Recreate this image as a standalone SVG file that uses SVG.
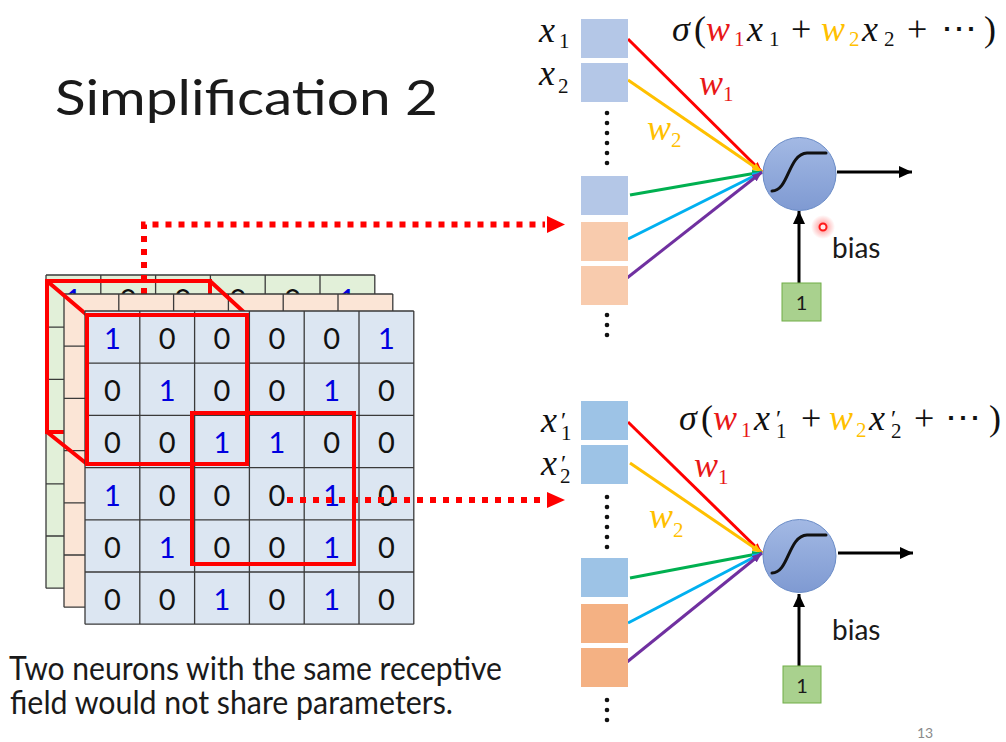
<svg xmlns="http://www.w3.org/2000/svg" width="1006" height="742" viewBox="0 0 1006 742">
<style>
.ui{font-family:Lato,"Liberation Sans",sans-serif;fill:#1a1a1a}
.d{font-family:Lato,"Liberation Sans",sans-serif;font-size:29px;text-anchor:middle;fill:#111}
.d1{fill:#0000E0}
.grid{stroke:#3a3a3a;stroke-width:1.3;fill:none}
.red{stroke:#FF0000;stroke-width:4;fill:none}
.dot{stroke:#FF0000;stroke-width:6;fill:none;stroke-dasharray:6 7}
.mt{font-family:"Liberation Serif","DejaVu Serif",serif;font-size:36px;fill:#111}
.i{font-style:italic}
.s{font-size:21px;font-style:normal}
.pr{font-size:24px;font-style:normal}
.r{fill:#E81818}
.y{fill:#FFC000}
.bx{stroke:none}
.vd{fill:#111}
.neu{fill:url(#ng);stroke:#6A8CC7;stroke-width:1}
.sig{fill:none;stroke:#111;stroke-width:3;stroke-linecap:round}
.one{fill:#A9D18E;stroke:#70AD47;stroke-width:1}
.ln{stroke-width:3;fill:none}
</style>
<defs>
<linearGradient id="ng" x1="0" y1="0" x2="0" y2="1">
<stop offset="0" stop-color="#A3B9E4"/>
<stop offset="1" stop-color="#7F9AD2"/>
</linearGradient>
<radialGradient id="glow">
<stop offset="0" stop-color="#FF3030" stop-opacity="0.55"/>
<stop offset="1" stop-color="#FF3030" stop-opacity="0"/>
</radialGradient>
<marker id="aR" viewBox="0 0 10 8" refX="10" refY="4" markerWidth="10" markerHeight="8" markerUnits="userSpaceOnUse" orient="auto"><path d="M0,0L10,4L0,8z" fill="#FF0000"/></marker>
<marker id="aY" viewBox="0 0 10 8" refX="10" refY="4" markerWidth="10" markerHeight="8" markerUnits="userSpaceOnUse" orient="auto"><path d="M0,0L10,4L0,8z" fill="#FFC000"/></marker>
<marker id="aG" viewBox="0 0 10 8" refX="10" refY="4" markerWidth="10" markerHeight="8" markerUnits="userSpaceOnUse" orient="auto"><path d="M0,0L10,4L0,8z" fill="#00B050"/></marker>
<marker id="aC" viewBox="0 0 10 8" refX="10" refY="4" markerWidth="10" markerHeight="8" markerUnits="userSpaceOnUse" orient="auto"><path d="M0,0L10,4L0,8z" fill="#00B0F0"/></marker>
<marker id="aP" viewBox="0 0 10 8" refX="10" refY="4" markerWidth="10" markerHeight="8" markerUnits="userSpaceOnUse" orient="auto"><path d="M0,0L10,4L0,8z" fill="#7030A0"/></marker>
<marker id="aK" viewBox="0 0 13 12" refX="13" refY="6" markerWidth="13" markerHeight="12" markerUnits="userSpaceOnUse" orient="auto"><path d="M0,0L13,6L0,12z" fill="#000"/></marker>
</defs>
<rect width="1006" height="742" fill="#FFFFFF"/>

<g id="title">
<text class="ui" x="55" y="115" font-size="48" textLength="383" lengthAdjust="spacingAndGlyphs">Simplification 2</text>
</g>

<g id="channel-green">
<rect x="46" y="275" width="328.8" height="313.2" fill="#E2F0D9"/>
<text class="d d1" x="73.4" y="310">1</text>
<text class="d" x="128.2" y="310">0</text>
<text class="d" x="183" y="310">0</text>
<text class="d" x="237.8" y="310">0</text>
<text class="d" x="292.6" y="310">0</text>
<text class="d d1" x="347.4" y="310">1</text>
<path class="grid" d="M46,275V588.2M100.8,275V588.2M155.6,275V588.2M210.4,275V588.2M265.2,275V588.2M320,275V588.2M374.8,275V588.2M46,275H374.8M46,327.2H374.8M46,379.4H374.8M46,431.6H374.8M46,483.8H374.8M46,536H374.8M46,588.2H374.8"/>
</g>

<g id="cube-back">
<rect class="red" x="47" y="281" width="163" height="151"/>
</g>

<g id="connector-upper-start">
<path class="dot" d="M144,294V224.5H545"/>
</g>

<g id="channel-orange">
<rect x="64" y="294" width="328.8" height="313.2" fill="#FBE5D6"/>
<path class="grid" d="M64,294V607.2M118.8,294V607.2M173.6,294V607.2M228.4,294V607.2M283.2,294V607.2M338,294V607.2M392.8,294V607.2M64,294H392.8M64,346.2H392.8M64,398.4H392.8M64,450.6H392.8M64,502.8H392.8M64,555H392.8M64,607.2H392.8"/>
</g>

<g id="cube-edges">
<path class="red" d="M47,281L87,315M210,281L247,315M47,432L87,464"/>
</g>

<g id="channel-blue">
<rect x="85" y="311" width="328.8" height="313.2" fill="#DCE6F2"/>
<path class="grid" d="M85,311V624.2M139.8,311V624.2M194.6,311V624.2M249.4,311V624.2M304.2,311V624.2M359,311V624.2M413.8,311V624.2M85,311H413.8M85,363.2H413.8M85,415.4H413.8M85,467.6H413.8M85,519.8H413.8M85,572H413.8M85,624.2H413.8"/>
<text class="d d1" x="112.4" y="349">1</text><text class="d" x="167.2" y="349">0</text><text class="d" x="222" y="349">0</text><text class="d" x="276.8" y="349">0</text><text class="d" x="331.6" y="349">0</text><text class="d d1" x="386.4" y="349">1</text>
<text class="d" x="112.4" y="401.2">0</text><text class="d d1" x="167.2" y="401.2">1</text><text class="d" x="222" y="401.2">0</text><text class="d" x="276.8" y="401.2">0</text><text class="d d1" x="331.6" y="401.2">1</text><text class="d" x="386.4" y="401.2">0</text>
<text class="d" x="112.4" y="453.4">0</text><text class="d" x="167.2" y="453.4">0</text><text class="d d1" x="222" y="453.4">1</text><text class="d d1" x="276.8" y="453.4">1</text><text class="d" x="331.6" y="453.4">0</text><text class="d" x="386.4" y="453.4">0</text>
<text class="d d1" x="112.4" y="505.6">1</text><text class="d" x="167.2" y="505.6">0</text><text class="d" x="222" y="505.6">0</text><text class="d" x="276.8" y="505.6">0</text><text class="d d1" x="331.6" y="505.6">1</text><text class="d" x="386.4" y="505.6">0</text>
<text class="d" x="112.4" y="557.8">0</text><text class="d d1" x="167.2" y="557.8">1</text><text class="d" x="222" y="557.8">0</text><text class="d" x="276.8" y="557.8">0</text><text class="d d1" x="331.6" y="557.8">1</text><text class="d" x="386.4" y="557.8">0</text>
<text class="d" x="112.4" y="610">0</text><text class="d" x="167.2" y="610">0</text><text class="d d1" x="222" y="610">1</text><text class="d" x="276.8" y="610">0</text><text class="d d1" x="331.6" y="610">1</text><text class="d" x="386.4" y="610">0</text>
</g>

<g id="receptive-fields">
<rect class="red" x="87" y="315" width="160" height="149"/>
<rect class="red" x="192" y="413" width="162" height="151"/>
</g>

<g id="connectors">
<polygon points="547,216 565,224.5 547,233" fill="#FF0000"/>
<path class="dot" d="M287,500H545"/>
<polygon points="547,492 565,500 547,508" fill="#FF0000"/>
<line class="ln" x1="628" y1="39" x2="762" y2="172" stroke="#FF0000" marker-end="url(#aR)"/>
<line class="ln" x1="628" y1="80" x2="762" y2="172" stroke="#FFC000" marker-end="url(#aY)"/>
<line class="ln" x1="630" y1="195" x2="762" y2="172" stroke="#00B050" marker-end="url(#aG)"/>
<line class="ln" x1="628" y1="239" x2="762" y2="172" stroke="#00B0F0" marker-end="url(#aC)"/>
<line class="ln" x1="627" y1="278" x2="762" y2="172" stroke="#7030A0" marker-end="url(#aP)"/>
<line class="ln" x1="837" y1="172" x2="912" y2="172" stroke="#000" marker-end="url(#aK)"/>
<line class="ln" x1="799" y1="283" x2="799" y2="211" stroke="#000" marker-end="url(#aK)"/>
<line class="ln" x1="628" y1="422" x2="762" y2="553" stroke="#FF0000" marker-end="url(#aR)"/>
<line class="ln" x1="630" y1="463" x2="762" y2="553" stroke="#FFC000" marker-end="url(#aY)"/>
<line class="ln" x1="630" y1="578" x2="762" y2="553" stroke="#00B050" marker-end="url(#aG)"/>
<line class="ln" x1="628" y1="623" x2="762" y2="553" stroke="#00B0F0" marker-end="url(#aC)"/>
<line class="ln" x1="627" y1="662" x2="762" y2="553" stroke="#7030A0" marker-end="url(#aP)"/>
<line class="ln" x1="838" y1="553" x2="913" y2="553" stroke="#000" marker-end="url(#aK)"/>
<line class="ln" x1="799" y1="666" x2="799" y2="594" stroke="#000" marker-end="url(#aK)"/>
</g>

<g id="inputs-upper">
<rect class="bx" x="581" y="19" width="47" height="39" fill="#B4C7E7"/>
<rect class="bx" x="581" y="63" width="47" height="39" fill="#B4C7E7"/>
<rect class="bx" x="581" y="176" width="47" height="39" fill="#B4C7E7"/>
<rect class="bx" x="581" y="222" width="47" height="39" fill="#F8CBAD"/>
<rect class="bx" x="581" y="266" width="47" height="39" fill="#F8CBAD"/>
<circle class="vd" cx="607" cy="113" r="2.3"/><circle class="vd" cx="607" cy="123" r="2.3"/><circle class="vd" cx="607" cy="133" r="2.3"/><circle class="vd" cx="607" cy="143" r="2.3"/><circle class="vd" cx="607" cy="153" r="2.3"/><circle class="vd" cx="607" cy="163" r="2.3"/>
<circle class="vd" cx="607" cy="315" r="2.3"/><circle class="vd" cx="607" cy="325" r="2.3"/><circle class="vd" cx="607" cy="335" r="2.3"/>
<text class="mt i"><tspan x="539" y="42">x</tspan><tspan class="s" x="559" y="48">1</tspan></text>
<text class="mt i"><tspan x="539" y="85">x</tspan><tspan class="s" x="558" y="93">2</tspan></text>
</g>

<g id="inputs-lower">
<rect class="bx" x="581" y="401" width="47" height="39" fill="#9DC3E6"/>
<rect class="bx" x="581" y="445" width="47" height="39" fill="#9DC3E6"/>
<rect class="bx" x="581" y="558" width="47" height="39" fill="#9DC3E6"/>
<rect class="bx" x="581" y="604" width="47" height="39" fill="#F4B183"/>
<rect class="bx" x="581" y="648" width="47" height="39" fill="#F4B183"/>
<circle class="vd" cx="607" cy="497" r="2.3"/><circle class="vd" cx="607" cy="507" r="2.3"/><circle class="vd" cx="607" cy="517" r="2.3"/><circle class="vd" cx="607" cy="527" r="2.3"/><circle class="vd" cx="607" cy="537" r="2.3"/><circle class="vd" cx="607" cy="547" r="2.3"/>
<circle class="vd" cx="607" cy="700" r="2.3"/><circle class="vd" cx="607" cy="710" r="2.3"/><circle class="vd" cx="607" cy="720" r="2.3"/>
<text class="mt i"><tspan x="541" y="432">x</tspan><tspan class="pr" x="561" y="428">′</tspan><tspan class="s" x="561" y="440">1</tspan></text>
<text class="mt i"><tspan x="541" y="475">x</tspan><tspan class="pr" x="561" y="471">′</tspan><tspan class="s" x="560" y="483">2</tspan></text>
</g>

<g id="neuron-upper">
<circle class="neu" cx="799.5" cy="174" r="36.5"/>
<path class="sig" d="M772,191C789,191 788,154 807,153L826,153"/>
<text class="mt i"><tspan x="672" y="41">σ</tspan><tspan style="font-style:normal" x="694" y="41">(</tspan><tspan class="r" x="706" y="41">w</tspan><tspan class="s r" x="734" y="46">1</tspan><tspan x="747" y="41">x</tspan><tspan class="s" x="769" y="46">1</tspan><tspan style="font-style:normal" x="791" y="41">+</tspan><tspan class="y" x="821" y="41">w</tspan><tspan class="s y" x="849" y="46">2</tspan><tspan x="862" y="41">x</tspan><tspan class="s" x="884" y="46">2</tspan><tspan style="font-style:normal" x="907" y="41">+</tspan><tspan style="font-style:normal" x="941" y="41">⋯</tspan><tspan style="font-style:normal" x="984" y="41">)</tspan></text>
<text class="mt i r"><tspan x="699" y="95">w</tspan><tspan class="s" x="723" y="101">1</tspan></text>
<text class="mt i y"><tspan x="647" y="140">w</tspan><tspan class="s" x="671" y="147">2</tspan></text>
</g>

<g id="bias-upper">
<rect class="one" x="782" y="283" width="39" height="38"/>
<text class="ui" x="801.5" y="310" font-size="20" text-anchor="middle">1</text>
<text class="ui" x="832" y="258" font-size="28">bias</text>
</g>

<g id="pointer">
<circle cx="823" cy="227" r="12" fill="url(#glow)"/>
<circle cx="823" cy="227" r="3.5" fill="#FFE8E8" stroke="#FF1A1A" stroke-width="2"/>
</g>

<g id="neuron-lower">
<circle class="neu" cx="799.5" cy="556" r="36.5"/>
<path class="sig" d="M772,573C789,573 788,536 807,535L826,535"/>
<text class="mt i"><tspan x="679" y="430">σ</tspan><tspan style="font-style:normal" x="701" y="430">(</tspan><tspan class="r" x="713" y="430">w</tspan><tspan class="s r" x="741" y="437">1</tspan><tspan x="754" y="430">x</tspan><tspan class="pr" x="776" y="426">′</tspan><tspan class="s" x="776" y="438">1</tspan><tspan style="font-style:normal" x="801" y="430">+</tspan><tspan class="y" x="829" y="430">w</tspan><tspan class="s y" x="856" y="437">2</tspan><tspan x="869" y="430">x</tspan><tspan class="pr" x="891" y="426">′</tspan><tspan class="s" x="891" y="438">2</tspan><tspan style="font-style:normal" x="914" y="430">+</tspan><tspan style="font-style:normal" x="945" y="430">⋯</tspan><tspan style="font-style:normal" x="989" y="430">)</tspan></text>
<text class="mt i r"><tspan x="694" y="477">w</tspan><tspan class="s" x="718" y="484">1</tspan></text>
<text class="mt i y"><tspan x="649" y="528">w</tspan><tspan class="s" x="673" y="537">2</tspan></text>
</g>

<g id="bias-lower">
<rect class="one" x="783" y="666" width="38" height="37"/>
<text class="ui" x="802" y="693" font-size="20" text-anchor="middle">1</text>
<text class="ui" x="832" y="640" font-size="28">bias</text>
</g>

<g id="caption">
<text class="ui" x="9" y="680" font-size="32" textLength="493" lengthAdjust="spacingAndGlyphs">Two neurons with the same receptive</text>
<text class="ui" x="10" y="714" font-size="32" textLength="443" lengthAdjust="spacingAndGlyphs">field would not share parameters.</text>
</g>

<g id="page-number">
<text x="917" y="738" font-family="Lato,'Liberation Sans',sans-serif" font-size="14" fill="#8A8A8A">13</text>
</g>
</svg>
